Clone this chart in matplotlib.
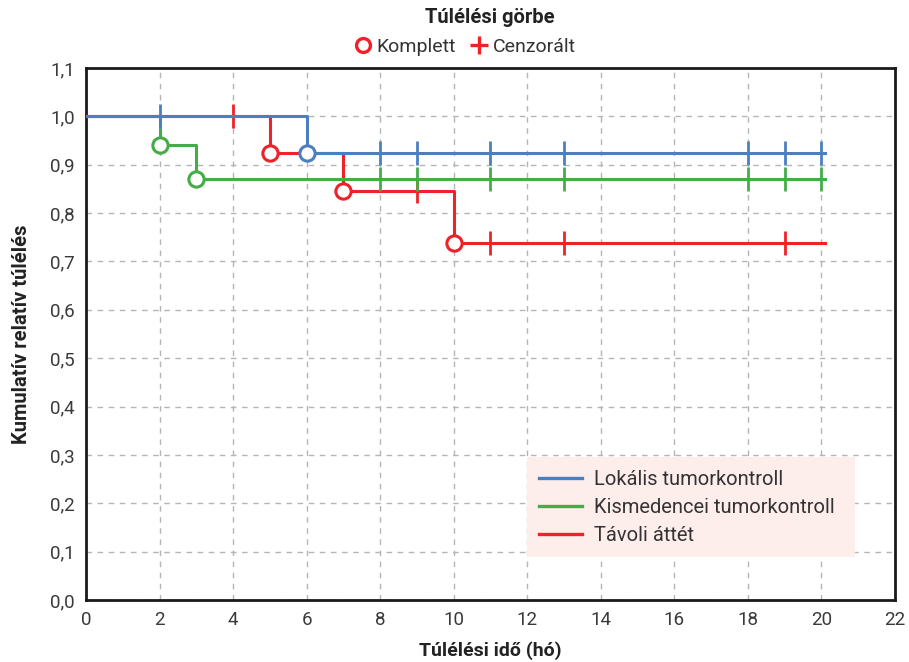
import matplotlib
matplotlib.use("Agg")
import matplotlib.pyplot as plt
from matplotlib.lines import Line2D
from matplotlib.ticker import FuncFormatter, MultipleLocator
import numpy as np

plt.rcParams['font.family'] = ['Roboto', 'DejaVu Sans']

title = "Túlélési görbe"
xlabel = "Túlélési idő (hó)"
ylabel = "Kumulatív relatív túlélés"
series_names = ["Lokális tumorkontroll", "Kismedencei tumorkontroll", "Távoli áttét"]
series_colors = ["#4a7fc0", "#45ad48", "#ee2229"]

# event times (drops) and survival after each drop
event_times = [[6], [2, 3], [5, 7, 10]]
event_surv = [[0.925], [0.94, 0.87], [0.925, 0.846, 0.739]]
# censored times
censor_times = [[2, 8, 9, 11, 13, 18, 19, 20],
                [8, 9, 11, 13, 18, 19, 20],
                [4, 9, 11, 13, 19]]
end_time = 20.1

fig = plt.figure(figsize=(9.09, 6.62), dpi=100)
ax = fig.add_axes([0.0946, 0.0937, 0.89, 0.8036])

def surv_at(t, et, es):
    s = 1.0
    for ti, si in zip(et, es):
        if t >= ti:
            s = si
    return s

order = [2, 1, 0]
for i in order:
    et, es = event_times[i], event_surv[i]
    xs = [0] + et + [end_time]
    ys = [1.0] + es + [es[-1]]
    c = series_colors[i]
    ax.plot(xs, ys, drawstyle='steps-post', color=c, lw=2.2, zorder=3 + (2 - i))
    ax.plot(et, es, 'o', ms=11, mfc='white', mec=c, mew=2.2, zorder=6 + (2 - i) * 0.1)
    cy = [surv_at(t, et, es) for t in censor_times[i]]
    ax.plot(censor_times[i], cy, '|', ms=17, mew=2.0, color=c, zorder=5)

handles = [Line2D([], [], color=series_colors[i], lw=2.4) for i in range(3)]

ax.set_xlim(0, 22)
ax.set_ylim(0, 1.1)
ax.xaxis.set_major_locator(MultipleLocator(2))
ax.yaxis.set_major_locator(MultipleLocator(0.1))
ax.yaxis.set_major_formatter(FuncFormatter(lambda v, p: f"{v:.1f}".replace('.', ',')))
ax.grid(True, color='#b5b5b5', ls=(0, (4, 4)), lw=1.0, zorder=0)
ax.tick_params(length=0, labelsize=13.5, colors='#3a3a3a', pad=8)
for s in ax.spines.values():
    s.set_linewidth(2.0)
    s.set_color('#1a1a1a')

ax.set_xlabel(xlabel, fontsize=14, fontweight='bold', color='#222222', labelpad=9)
ax.set_ylabel(ylabel, fontsize=14.5, fontweight='bold', color='#222222', labelpad=14)

leg = ax.legend(handles, series_names, loc='upper left', bbox_to_anchor=(0.545, 0.268, 0.405, 0.0),
                mode='expand', borderaxespad=0, fontsize=14.5, facecolor='#fdeeec', edgecolor='none',
                framealpha=1, fancybox=False, handlelength=2.1, labelspacing=0.45, borderpad=0.62,
                handletextpad=0.6)
leg.set_zorder(10)
for t in leg.get_texts():
    t.set_color('#333333')

fig.text(0.539, 0.973, title, ha='center', va='center', fontsize=14.5, fontweight='bold', color='#222222')
top_handles = [Line2D([], [], ls='none', marker='o', ms=10, mfc='white', mec='#ee2229', mew=2.4),
               Line2D([], [], ls='none', marker='+', ms=13, mew=2.4, color='#ee2229')]
tl = fig.legend(top_handles, ["Komplett", "Cenzorált"], loc='center', bbox_to_anchor=(0.512, 0.929),
                ncol=2, frameon=False, fontsize=14, handlelength=0.8, handletextpad=0.3, columnspacing=0.8)
for t in tl.get_texts():
    t.set_color('#333333')

fig.savefig("out.png", dpi=100)
